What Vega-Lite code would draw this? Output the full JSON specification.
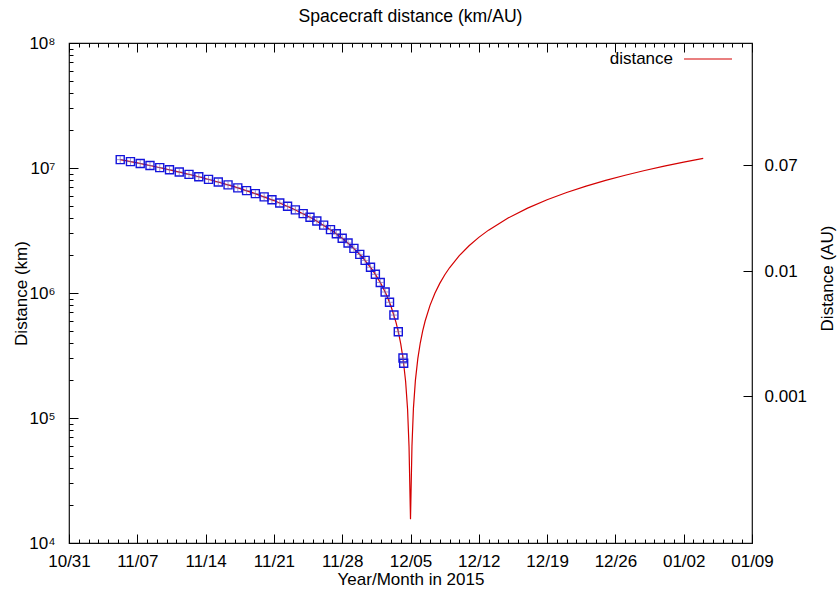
{
  "$schema": "https://vega.github.io/schema/vega-lite/v6.json",
  "width": 683,
  "height": 500,
  "autosize": {"type": "none"},
  "padding": {"left": 69, "top": 43, "right": 86, "bottom": 52},
  "config": {
    "font": "Liberation Sans",
    "view": {"stroke": "#111", "strokeWidth": 1.2},
    "axis": {"domain": false, "grid": false, "labelColor": "#000", "titleColor": "#000", "tickColor": "#000", "labelFontSize": 17, "titleFontSize": 17, "titleFontWeight": "normal", "labelFont": "Liberation Sans", "titleFont": "Liberation Sans", "tickWidth": 1}
  },
  "title": {"text": "Spacecraft distance (km/AU)", "fontSize": 17.6, "fontWeight": "normal", "font": "Liberation Sans", "color": "#000", "offset": 8},
  "datasets": {
    "line": [
      {"date": "2015-11-05T06:00", "km": 11662000, "series": "distance"},
      {"date": "2015-11-07T00:00", "km": 10976000, "series": "distance"},
      {"date": "2015-11-09T00:00", "km": 10192000, "series": "distance"},
      {"date": "2015-11-11T00:00", "km": 9408000, "series": "distance"},
      {"date": "2015-11-13T00:00", "km": 8624000, "series": "distance"},
      {"date": "2015-11-15T00:00", "km": 7840000, "series": "distance"},
      {"date": "2015-11-17T00:00", "km": 7056000, "series": "distance"},
      {"date": "2015-11-19T00:00", "km": 6272000, "series": "distance"},
      {"date": "2015-11-21T00:00", "km": 5488000, "series": "distance"},
      {"date": "2015-11-23T00:00", "km": 4704000, "series": "distance"},
      {"date": "2015-11-25T00:00", "km": 3920000, "series": "distance"},
      {"date": "2015-11-27T00:00", "km": 3136000, "series": "distance"},
      {"date": "2015-11-28T00:00", "km": 2744000, "series": "distance"},
      {"date": "2015-11-29T00:00", "km": 2352000, "series": "distance"},
      {"date": "2015-11-30T00:00", "km": 1960000, "series": "distance"},
      {"date": "2015-12-01T00:00", "km": 1568000, "series": "distance"},
      {"date": "2015-12-01T12:00", "km": 1372000, "series": "distance"},
      {"date": "2015-12-02T00:00", "km": 1176000, "series": "distance"},
      {"date": "2015-12-02T12:00", "km": 980000, "series": "distance"},
      {"date": "2015-12-03T00:00", "km": 784000, "series": "distance"},
      {"date": "2015-12-03T12:00", "km": 588000, "series": "distance"},
      {"date": "2015-12-03T18:00", "km": 490000, "series": "distance"},
      {"date": "2015-12-04T00:00", "km": 392000, "series": "distance"},
      {"date": "2015-12-04T06:00", "km": 294000, "series": "distance"},
      {"date": "2015-12-04T12:00", "km": 196000, "series": "distance"},
      {"date": "2015-12-04T16:48", "km": 117600, "series": "distance"},
      {"date": "2015-12-04T20:24", "km": 58800, "series": "distance"},
      {"date": "2015-12-05T00:00", "km": 15500, "series": "distance"},
      {"date": "2015-12-05T03:36", "km": 59700, "series": "distance"},
      {"date": "2015-12-05T07:12", "km": 119400, "series": "distance"},
      {"date": "2015-12-05T12:00", "km": 199000, "series": "distance"},
      {"date": "2015-12-05T18:00", "km": 298500, "series": "distance"},
      {"date": "2015-12-06T00:00", "km": 398000, "series": "distance"},
      {"date": "2015-12-06T06:00", "km": 497500, "series": "distance"},
      {"date": "2015-12-06T12:00", "km": 597000, "series": "distance"},
      {"date": "2015-12-07T00:00", "km": 796000, "series": "distance"},
      {"date": "2015-12-07T12:00", "km": 995000, "series": "distance"},
      {"date": "2015-12-08T00:00", "km": 1194000, "series": "distance"},
      {"date": "2015-12-08T12:00", "km": 1393000, "series": "distance"},
      {"date": "2015-12-09T00:00", "km": 1592000, "series": "distance"},
      {"date": "2015-12-10T00:00", "km": 1990000, "series": "distance"},
      {"date": "2015-12-11T00:00", "km": 2388000, "series": "distance"},
      {"date": "2015-12-12T00:00", "km": 2786000, "series": "distance"},
      {"date": "2015-12-13T00:00", "km": 3184000, "series": "distance"},
      {"date": "2015-12-15T00:00", "km": 3980000, "series": "distance"},
      {"date": "2015-12-17T00:00", "km": 4776000, "series": "distance"},
      {"date": "2015-12-19T00:00", "km": 5572000, "series": "distance"},
      {"date": "2015-12-21T00:00", "km": 6368000, "series": "distance"},
      {"date": "2015-12-23T00:00", "km": 7164000, "series": "distance"},
      {"date": "2015-12-25T00:00", "km": 7960000, "series": "distance"},
      {"date": "2015-12-27T00:00", "km": 8756000, "series": "distance"},
      {"date": "2015-12-29T00:00", "km": 9552000, "series": "distance"},
      {"date": "2015-12-31T00:00", "km": 10348000, "series": "distance"},
      {"date": "2016-01-02T00:00", "km": 11144000, "series": "distance"},
      {"date": "2016-01-04T00:00", "km": 11940000, "series": "distance"}
    ],
    "obs": [
      {"date": "2015-11-05T06:00", "km": 11662000},
      {"date": "2015-11-06T07:12", "km": 11250000},
      {"date": "2015-11-07T07:12", "km": 10858000},
      {"date": "2015-11-08T07:12", "km": 10466000},
      {"date": "2015-11-09T07:12", "km": 10074000},
      {"date": "2015-11-10T07:12", "km": 9682000},
      {"date": "2015-11-11T07:12", "km": 9290000},
      {"date": "2015-11-12T07:12", "km": 8898000},
      {"date": "2015-11-13T07:12", "km": 8506000},
      {"date": "2015-11-14T07:12", "km": 8114000},
      {"date": "2015-11-15T07:12", "km": 7722000},
      {"date": "2015-11-16T07:12", "km": 7330000},
      {"date": "2015-11-17T07:12", "km": 6938000},
      {"date": "2015-11-18T04:48", "km": 6586000},
      {"date": "2015-11-19T02:24", "km": 6233000},
      {"date": "2015-11-20T00:00", "km": 5880000},
      {"date": "2015-11-20T19:12", "km": 5566000},
      {"date": "2015-11-21T14:24", "km": 5253000},
      {"date": "2015-11-22T09:36", "km": 4939000},
      {"date": "2015-11-23T04:48", "km": 4626000},
      {"date": "2015-11-24T00:00", "km": 4312000},
      {"date": "2015-11-24T16:48", "km": 4038000},
      {"date": "2015-11-25T09:36", "km": 3763000},
      {"date": "2015-11-26T02:24", "km": 3489000},
      {"date": "2015-11-26T19:12", "km": 3214000},
      {"date": "2015-11-27T09:36", "km": 2979000},
      {"date": "2015-11-28T00:00", "km": 2744000},
      {"date": "2015-11-28T14:24", "km": 2509000},
      {"date": "2015-11-29T04:48", "km": 2274000},
      {"date": "2015-11-29T19:12", "km": 2038000},
      {"date": "2015-11-30T08:24", "km": 1823000},
      {"date": "2015-11-30T21:36", "km": 1607000},
      {"date": "2015-12-01T09:36", "km": 1411000},
      {"date": "2015-12-01T21:36", "km": 1215000},
      {"date": "2015-12-02T09:36", "km": 1019000},
      {"date": "2015-12-02T20:24", "km": 843000},
      {"date": "2015-12-03T07:12", "km": 666000},
      {"date": "2015-12-03T18:00", "km": 490000},
      {"date": "2015-12-04T05:30", "km": 302000},
      {"date": "2015-12-04T07:12", "km": 274000}
    ]
  },
  "layer": [
    {
      "data": {"name": "line"},
      "mark": {"type": "line", "strokeWidth": 1.2, "interpolate": "linear"},
      "encoding": {
        "x": {
          "field": "date", "type": "temporal",
          "scale": {"domain": [{"year": 2015, "month": 10, "date": 31}, {"year": 2016, "month": 1, "date": 9}], "nice": false},
          "axis": {
            "orient": "bottom",
            "title": "Year/Month in 2015",
            "tickCount": {"interval": "day", "step": 1},
            "labelExpr": "day(datum.value) == 6 ? timeFormat(datum.value, '%m/%d') : ''",
            "labelFlush": false,
            "labelOverlap": false,
            "tickSize": {"condition": {"test": "day(datum.value) == 6", "value": -9}, "value": -4},
            "labelPadding": 19,
            "titlePadding": -3
          }
        },
        "y": {
          "field": "km", "type": "quantitative",
          "scale": {"type": "log", "domain": [10000, 100000000], "nice": false},
          "axis": {
            "orient": "left",
            "title": "Distance (km)",
            "values": [10000, 20000, 30000, 40000, 50000, 60000, 70000, 80000, 90000, 100000, 200000, 300000, 400000, 500000, 600000, 700000, 800000, 900000, 1000000, 2000000, 3000000, 4000000, 5000000, 6000000, 7000000, 8000000, 9000000, 10000000, 20000000, 30000000, 40000000, 50000000, 60000000, 70000000, 80000000, 90000000, 100000000],
            "labelExpr": "abs(log(datum.value)/LN10 - round(log(datum.value)/LN10)) < 0.001 ? (round(log(datum.value)/LN10) == 4 ? '10⁴' : round(log(datum.value)/LN10) == 5 ? '10⁵' : round(log(datum.value)/LN10) == 6 ? '10⁶' : round(log(datum.value)/LN10) == 7 ? '10⁷' : '10⁸') : ''",
            "labelOverlap": false,
            "labelFlush": false,
            "tickSize": {"condition": {"test": "abs(log(datum.value)/LN10 - round(log(datum.value)/LN10)) < 0.001", "value": -9}, "value": -4},
            "labelPadding": 23,
            "titlePadding": -2
          }
        },
        "color": {
          "field": "series", "type": "nominal",
          "scale": {"domain": ["distance"], "range": ["#d40000"]},
          "legend": {
            "orient": "none", "legendX": 614, "legendY": -9,
            "title": null, "padding": 0,
            "symbolType": "stroke", "symbolSize": 2304, "symbolStrokeWidth": 1.2,
            "labelAlign": "right", "labelOffset": -60,
            "labelFontSize": 17, "labelColor": "#000", "labelFont": "Liberation Sans"
          }
        }
      }
    },
    {
      "data": {"name": "obs"},
      "mark": {"type": "point", "shape": "square", "filled": false, "size": 64, "strokeWidth": 1.4, "color": "#1414dc", "opacity": 1},
      "encoding": {
        "x": {
          "field": "date", "type": "temporal",
          "scale": {"domain": [{"year": 2015, "month": 10, "date": 31}, {"year": 2016, "month": 1, "date": 9}], "nice": false},
          "axis": {
            "orient": "top", "title": null, "labels": false,
            "tickCount": {"interval": "day", "step": 1},
            "tickSize": {"condition": {"test": "day(datum.value) == 6", "value": -9}, "value": -4}
          }
        },
        "y": {
          "field": "km", "type": "quantitative",
          "scale": {"type": "log", "domain": [10000, 100000000], "nice": false},
          "axis": {
            "orient": "right",
            "title": "Distance (AU)",
            "titleAngle": -90,
            "titleY": 235,
            "values": [149598, 1495979, 10471850],
            "labelExpr": "datum.value < 1000000 ? '0.001' : datum.value < 10000000 ? '0.01' : '0.07'",
            "tickSize": -9,
            "labelPadding": 21,
            "labelOverlap": false,
            "labelFlush": false,
            "titlePadding": 30
          }
        }
      }
    },
    {
      "data": {"name": "obs"},
      "mark": {"type": "point", "shape": "M-1,0H1M0,-1V1", "filled": false, "size": 49, "strokeWidth": 0.8, "color": "#6a5ab8", "opacity": 0.8},
      "encoding": {
        "x": {"field": "date", "type": "temporal", "axis": null, "scale": {"domain": [{"year": 2015, "month": 10, "date": 31}, {"year": 2016, "month": 1, "date": 9}], "nice": false}},
        "y": {"field": "km", "type": "quantitative", "axis": null, "scale": {"type": "log", "domain": [10000, 100000000], "nice": false}}
      }
    }
  ],
  "resolve": {"axis": {"x": "independent", "y": "independent"}}
}
